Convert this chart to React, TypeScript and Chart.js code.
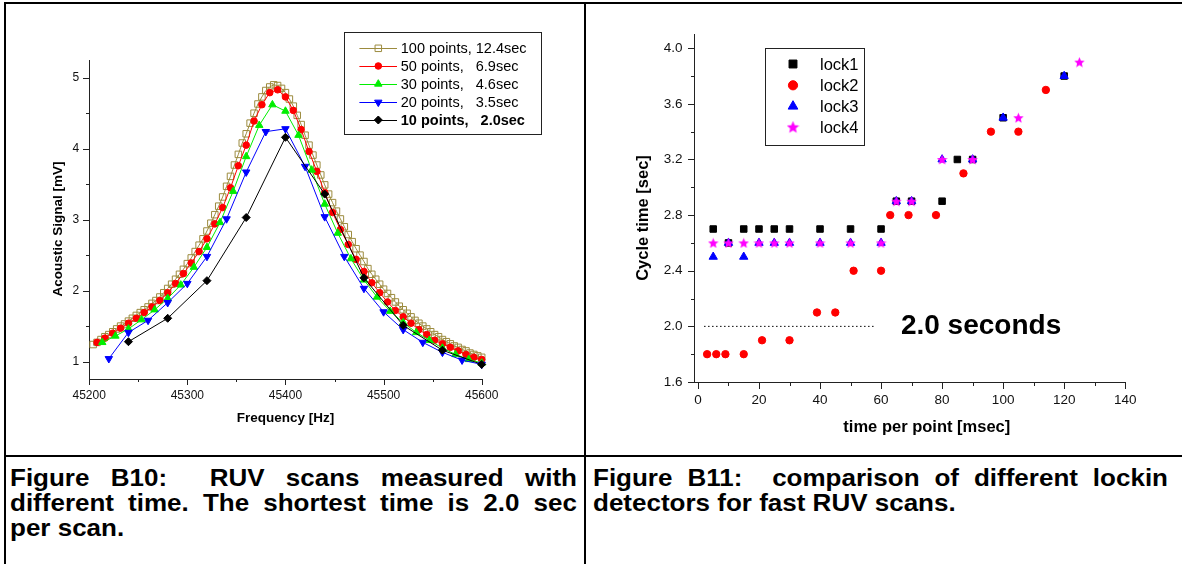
import React, { useEffect, useRef } from 'react';
import { Chart, registerables } from 'chart.js';

Chart.register(...registerables);

const FONT = "'Liberation Sans', Arial, Helvetica, sans-serif";

/* ---------------- Figure B10 : RUV scans ---------------- */
const freq100 = [
  45204, 45208, 45212, 45216, 45220, 45224, 45228, 45232, 45236, 45240,
  45244, 45248, 45252, 45256, 45260, 45264, 45268, 45272, 45276, 45280,
  45284, 45288, 45292, 45296, 45300, 45304, 45308, 45312, 45316, 45320,
  45324, 45328, 45332, 45336, 45340, 45344, 45348, 45352, 45356, 45360,
  45364, 45368, 45372, 45376, 45380, 45384, 45388, 45392, 45396, 45400,
  45404, 45408, 45412, 45416, 45420, 45424, 45428, 45432, 45436, 45440,
  45444, 45448, 45452, 45456, 45460, 45464, 45468, 45472, 45476, 45480,
  45484, 45488, 45492, 45496, 45500, 45504, 45508, 45512, 45516, 45520,
  45524, 45528, 45532, 45536, 45540, 45544, 45548, 45552, 45556, 45560,
  45564, 45568, 45572, 45576, 45580, 45584, 45588, 45592, 45596, 45600,
];
const signal100 = [
  1.24, 1.27, 1.31, 1.35, 1.38, 1.42, 1.46, 1.50, 1.53, 1.57,
  1.61, 1.65, 1.69, 1.73, 1.77, 1.82, 1.86, 1.91, 1.97, 2.03,
  2.09, 2.16, 2.23, 2.30, 2.38, 2.46, 2.55, 2.64, 2.73, 2.84,
  2.95, 3.07, 3.19, 3.32, 3.47, 3.61, 3.77, 3.92, 4.08, 4.21,
  4.36, 4.50, 4.63, 4.73, 4.82, 4.87, 4.90, 4.89, 4.85, 4.79,
  4.70, 4.60, 4.47, 4.34, 4.19, 4.05, 3.91, 3.77, 3.63, 3.49,
  3.36, 3.24, 3.12, 3.01, 2.90, 2.79, 2.69, 2.59, 2.50, 2.41,
  2.31, 2.23, 2.16, 2.09, 2.02, 1.96, 1.90, 1.84, 1.78, 1.73,
  1.68, 1.63, 1.58, 1.54, 1.50, 1.46, 1.42, 1.38, 1.35, 1.31,
  1.28, 1.25, 1.22, 1.20, 1.17, 1.15, 1.12, 1.10, 1.08, 1.06,
];
const freq50 = [
  45208, 45216, 45224, 45232, 45240, 45248, 45256, 45264, 45272, 45280,
  45288, 45296, 45304, 45312, 45320, 45328, 45336, 45344, 45352, 45360,
  45368, 45376, 45384, 45392, 45400, 45408, 45416, 45424, 45432, 45440,
  45448, 45456, 45464, 45472, 45480, 45488, 45496, 45504, 45512, 45520,
  45528, 45536, 45544, 45552, 45560, 45568, 45576, 45584, 45592, 45600,
];
const signal50 = [
  1.27, 1.33, 1.40, 1.47, 1.54, 1.61, 1.69, 1.77, 1.86, 1.97,
  2.10, 2.24, 2.39, 2.55, 2.73, 2.94, 3.17, 3.45, 3.76, 4.05,
  4.39, 4.62, 4.79, 4.83, 4.73, 4.54, 4.27, 3.96, 3.68, 3.38,
  3.10, 2.86, 2.65, 2.44, 2.27, 2.11, 1.97, 1.84, 1.72, 1.63,
  1.54, 1.45, 1.38, 1.30, 1.25, 1.20, 1.15, 1.10, 1.06, 1.03,
];
const freq30 = [
  45213.3, 45226.7, 45240, 45253.3, 45266.7, 45280, 45293.3, 45306.7, 45320, 45333.3,
  45346.7, 45360, 45373.3, 45386.7, 45400, 45413.3, 45426.7, 45440, 45453.3, 45466.7,
  45480, 45493.3, 45506.7, 45520, 45533.3, 45546.7, 45560, 45573.3, 45586.7, 45600,
];
const signal30 = [
  1.27, 1.36, 1.46, 1.59, 1.73, 1.89, 2.08, 2.33, 2.61, 2.96,
  3.40, 3.89, 4.33, 4.62, 4.53, 4.19, 3.70, 3.22, 2.81, 2.45,
  2.15, 1.91, 1.71, 1.55, 1.41, 1.30, 1.19, 1.10, 1.03, 0.98,
];
const freq20 = [
  45220, 45240, 45260, 45280, 45300, 45320, 45340, 45360, 45380, 45400,
  45420, 45440, 45460, 45480, 45500, 45520, 45540, 45560, 45580, 45600,
];
const signal20 = [
  1.04, 1.41, 1.58, 1.83, 2.10, 2.48, 3.01, 3.67, 4.24, 4.28,
  3.75, 3.04, 2.48, 2.03, 1.70, 1.45, 1.27, 1.13, 1.02, 0.96,
];
const freq10 = [45240, 45280, 45320, 45360, 45400, 45440, 45480, 45520, 45560, 45600];
const signal10 = [1.28, 1.61, 2.14, 3.03, 4.16, 3.36, 2.18, 1.51, 1.16, 0.96];

const b10SeriesLabels = [
  '100 points, 12.4sec',
  '50 points,   6.9sec',
  '30 points,   4.6sec',
  '20 points,   3.5sec',
  '10 points,   2.0sec',
];
const b10XTicks = [45200, 45300, 45400, 45500, 45600];
const b10XMinorTicks = [45250, 45350, 45450, 45550];
const b10YTicks = [1, 2, 3, 4, 5];
const b10YMinorTicks = [1.5, 2.5, 3.5, 4.5];
const b10XTitle = 'Frequency [Hz]';
const b10YTitle = 'Acoustic Signal [mV]';

/* ---------------- Figure B11 : lockin comparison ---------------- */
const lock1X = [5, 10, 15, 20, 25, 30, 40, 50, 60, 65, 70, 80, 85, 90, 100, 120];
const lock1Y = [2.7, 2.6, 2.7, 2.7, 2.7, 2.7, 2.7, 2.7, 2.7, 2.9, 2.9, 2.9, 3.2, 3.2, 3.5, 3.8];
const lock2X = [3, 6, 9, 15, 21, 30, 39, 45, 51, 60, 63, 69, 78, 87, 96, 105, 114];
const lock2Y = [1.8, 1.8, 1.8, 1.8, 1.9, 1.9, 2.1, 2.1, 2.4, 2.4, 2.8, 2.8, 2.8, 3.1, 3.4, 3.4, 3.7];
const lock3X = [5, 10, 15, 20, 25, 30, 40, 50, 60, 65, 70, 80, 90, 100, 120];
const lock3Y = [2.5, 2.6, 2.5, 2.6, 2.6, 2.6, 2.6, 2.6, 2.6, 2.9, 2.9, 3.2, 3.2, 3.5, 3.8];
const lock4X = [5, 10, 15, 20, 25, 30, 40, 50, 60, 65, 70, 80, 90, 105, 125];
const lock4Y = [2.6, 2.6, 2.6, 2.6, 2.6, 2.6, 2.6, 2.6, 2.6, 2.9, 2.9, 3.2, 3.2, 3.5, 3.9];
const b11SeriesLabels = ['lock1', 'lock2', 'lock3', 'lock4'];
const refLineX = [2, 58];
const refLineY = [2.0, 2.0];
const refLabel = '2.0 seconds';
const refLabelX = 66.5;
const refLabelY = 2.0;
const b11XTicks = [0, 20, 40, 60, 80, 100, 120, 140];
const b11XMinorTicks = [10, 30, 50, 70, 90, 110, 130];
const b11YTicks = [1.6, 2.0, 2.4, 2.8, 3.2, 3.6, 4.0];
const b11YMinorTicks = [1.8, 2.2, 2.6, 3.0, 3.4, 3.8];
const b11XTitle = 'time per point [msec]';
const b11YTitle = 'Cycle time [sec]';

const captionB10 = [
  'Figure B10:\u00a0 RUV scans measured with',
  'different time. The shortest time is 2.0 sec',
  'per scan.',
];
const captionB11 = [
  'Figure B11:\u00a0 comparison of different lockin',
  'detectors for fast RUV scans.',
];

/* ---------------- helpers ---------------- */
type Marker = {
  style: string;
  radius: number;
  fill: string;
  stroke: string;
  lineWidth: number;
  image?: HTMLCanvasElement;
};

function zip(xs: number[], ys: number[]) {
  return xs.map((x, i) => ({ x, y: ys[i] }));
}

function makeStar(size: number, color: string) {
  const c = document.createElement('canvas');
  c.width = size;
  c.height = size;
  const g = c.getContext('2d')!;
  const cx = size / 2;
  const cy = size / 2 + size * 0.04;
  const R = size / 2;
  const r = R * 0.45;
  g.beginPath();
  for (let i = 0; i < 10; i++) {
    const a = -Math.PI / 2 + (i * Math.PI) / 5;
    const rr = i % 2 ? r : R;
    g.lineTo(cx + rr * Math.cos(a), cy + rr * Math.sin(a));
  }
  g.closePath();
  g.fillStyle = color;
  g.fill();
  return c;
}

function drawMarker(ctx: CanvasRenderingContext2D, m: Marker, x: number, y: number) {
  if (m.image) {
    ctx.drawImage(m.image, x - m.image.width / 2, y - m.image.height / 2);
    return;
  }
  const r = m.radius;
  ctx.beginPath();
  if (m.style === 'rect') {
    const s = r * Math.SQRT1_2;
    ctx.rect(x - s, y - s, 2 * s, 2 * s);
  } else if (m.style === 'circle') {
    ctx.arc(x, y, r, 0, Math.PI * 2);
  } else if (m.style === 'triangle' || m.style === 'triangleDown') {
    const dir = m.style === 'triangle' ? 1 : -1;
    ctx.moveTo(x, y - dir * r);
    ctx.lineTo(x + r * Math.sin((2 * Math.PI) / 3), y - dir * r * Math.cos((2 * Math.PI) / 3));
    ctx.lineTo(x + r * Math.sin((4 * Math.PI) / 3), y - dir * r * Math.cos((4 * Math.PI) / 3));
    ctx.closePath();
  } else if (m.style === 'rectRot') {
    ctx.moveTo(x - r, y);
    ctx.lineTo(x, y - r);
    ctx.lineTo(x + r, y);
    ctx.lineTo(x, y + r);
    ctx.closePath();
  }
  ctx.fillStyle = m.fill;
  ctx.fill();
  if (m.lineWidth > 0) {
    ctx.strokeStyle = m.stroke;
    ctx.lineWidth = m.lineWidth;
    ctx.stroke();
  }
}

function axisTicksPlugin(cfg: {
  xMajor: number[]; xMinor: number[]; yMajor: number[]; yMinor: number[];
  majorLen: number; minorLen: number; color: string;
}) {
  return {
    id: 'originTicks',
    afterDraw(chart: any) {
      const { ctx, chartArea } = chart;
      const xs = chart.scales.x;
      const ys = chart.scales.y;
      ctx.save();
      ctx.strokeStyle = cfg.color;
      ctx.lineWidth = 1;
      ctx.beginPath();
      const b = Math.round(chartArea.bottom);
      const l = Math.round(chartArea.left);
      const xt = (v: number, len: number) => {
        const px = Math.round(xs.getPixelForValue(v)) + 0.5;
        ctx.moveTo(px, b);
        ctx.lineTo(px, b + len);
      };
      const yt = (v: number, len: number) => {
        const py = Math.round(ys.getPixelForValue(v)) + 0.5;
        ctx.moveTo(l, py);
        ctx.lineTo(l - len, py);
      };
      cfg.xMajor.forEach((v) => xt(v, cfg.majorLen));
      cfg.xMinor.forEach((v) => xt(v, cfg.minorLen));
      cfg.yMajor.forEach((v) => yt(v, cfg.majorLen));
      cfg.yMinor.forEach((v) => yt(v, cfg.minorLen));
      ctx.stroke();
      ctx.restore();
    },
  };
}

function titlesPlugin(items: { text: string; x: number; y: number; rotate?: boolean; font: string }[]) {
  return {
    id: 'axisTitles',
    afterDraw(chart: any) {
      const ctx = chart.ctx as CanvasRenderingContext2D;
      for (const t of items) {
        ctx.save();
        ctx.fillStyle = '#000';
        ctx.textAlign = 'center';
        ctx.textBaseline = 'middle';
        ctx.font = t.font;
        ctx.translate(t.x, t.y);
        if (t.rotate) ctx.rotate(-Math.PI / 2);
        ctx.fillText(t.text, 0, 0);
        ctx.restore();
      }
    },
  };
}

function legendPlugin(cfg: {
  box: [number, number, number, number];
  rows: number[];
  count: number;
  markers: Marker[];
  line?: [number, number];
  markerX: number;
  textX: number;
  font: string;
  boldFont?: string;
  boldIndex?: number;
}) {
  return {
    id: 'boxLegend',
    afterDraw(chart: any) {
      const ctx = chart.ctx as CanvasRenderingContext2D;
      const [bx, by, bw, bh] = cfg.box;
      ctx.save();
      ctx.fillStyle = '#fff';
      ctx.fillRect(bx, by, bw, bh);
      ctx.strokeStyle = '#222';
      ctx.lineWidth = 1;
      ctx.strokeRect(Math.round(bx) + 0.5, Math.round(by) + 0.5, Math.round(bw), Math.round(bh));
      for (let i = 0; i < cfg.count; i++) {
        const ds = chart.data.datasets[i];
        const y = cfg.rows[i];
        if (cfg.line) {
          ctx.beginPath();
          ctx.strokeStyle = ds.borderColor;
          ctx.lineWidth = 1;
          ctx.moveTo(cfg.line[0], Math.round(y) + 0.5);
          ctx.lineTo(cfg.line[1], Math.round(y) + 0.5);
          ctx.stroke();
        }
        drawMarker(ctx, cfg.markers[i], cfg.markerX, y);
        ctx.fillStyle = '#000';
        ctx.textAlign = 'left';
        ctx.textBaseline = 'middle';
        ctx.font = cfg.boldIndex === i && cfg.boldFont ? cfg.boldFont : cfg.font;
        ctx.fillText(ds.label, cfg.textX, y + 1);
      }
      ctx.restore();
    },
  };
}

function annotationPlugin(text: string, xv: number, yv: number, font: string) {
  return {
    id: 'refAnnotation',
    afterDraw(chart: any) {
      const ctx = chart.ctx as CanvasRenderingContext2D;
      const px = chart.scales.x.getPixelForValue(xv);
      const py = chart.scales.y.getPixelForValue(yv);
      ctx.save();
      ctx.font = font;
      ctx.fillStyle = '#000';
      ctx.textAlign = 'left';
      ctx.textBaseline = 'middle';
      ctx.fillText(text, px, py);
      ctx.restore();
    },
  };
}

function scaleOptions(
  min: number, max: number, ticks: number[], fmt: (v: number) => string,
  fontSize: number, padding: number, fit: (s: any) => void,
) {
  return {
    type: 'linear',
    min,
    max,
    afterBuildTicks: (s: any) => {
      s.ticks = ticks.map((v) => ({ value: v }));
    },
    afterFit: fit,
    grid: { display: false, drawTicks: false },
    border: { display: true, color: '#222', width: 1 },
    ticks: {
      callback: (v: any) => fmt(Number(v)),
      font: { family: FONT, size: fontSize },
      color: '#111',
      padding,
      autoSkip: false,
      maxRotation: 0,
      minRotation: 0,
    },
  };
}

/* ---------------- charts ---------------- */
const C100 = '#9c8b3e';
const C50 = '#ff0000';
const C30 = '#00ee00';
const C20 = '#0000ff';
const C10 = '#000000';

function B10Chart() {
  const ref = useRef<HTMLCanvasElement>(null);
  useEffect(() => {
    const markers: Marker[] = [
      { style: 'rect', radius: 4.6, fill: 'rgba(255,255,255,0)', stroke: C100, lineWidth: 1 },
      { style: 'circle', radius: 3.3, fill: C50, stroke: C50, lineWidth: 1 },
      { style: 'triangle', radius: 4.3, fill: C30, stroke: C30, lineWidth: 1 },
      { style: 'triangleDown', radius: 4.3, fill: C20, stroke: C20, lineWidth: 1 },
      { style: 'rectRot', radius: 4, fill: C10, stroke: C10, lineWidth: 1 },
    ];
    const series = [
      [freq100, signal100, C100],
      [freq50, signal50, C50],
      [freq30, signal30, C30],
      [freq20, signal20, C20],
      [freq10, signal10, C10],
    ] as [number[], number[], string][];
    const datasets = series.map(([xs, ys, color], i) => ({
      label: b10SeriesLabels[i],
      data: zip(xs, ys),
      showLine: true,
      borderColor: color,
      backgroundColor: color,
      borderWidth: 1,
      tension: 0,
      pointStyle: markers[i].style === 'triangleDown' ? 'triangle' : markers[i].style,
      pointRotation: markers[i].style === 'triangleDown' ? 180 : 0,
      pointRadius: markers[i].radius,
      pointBackgroundColor: markers[i].fill,
      pointBorderColor: markers[i].stroke,
      pointBorderWidth: markers[i].lineWidth,
      order: series.length - i,
      clip: false,
    }));
    const chart = new Chart(ref.current!, {
      type: 'scatter',
      data: { datasets } as any,
      options: {
        animation: false,
        responsive: false,
        events: [],
        layout: { padding: { left: 43.2, right: 102.3, top: 56, bottom: 30.7 } },
        plugins: { legend: { display: false }, tooltip: { enabled: false } },
        scales: {
          x: scaleOptions(45200, 45600, b10XTicks, (v) => String(v), 12, 9.5, (s) => { s.height = 45; }),
          y: scaleOptions(0.75, 5.25, b10YTicks, (v) => String(v), 12, 10, (s) => { s.width = 40; }),
        } as any,
      },
      plugins: [
        axisTicksPlugin({ xMajor: b10XTicks, xMinor: b10XMinorTicks, yMajor: b10YTicks, yMinor: b10YMinorTicks, majorLen: 6, minorLen: 3, color: '#222' }),
        titlesPlugin([
          { text: b10YTitle, x: 52, y: 225, rotate: true, font: `bold 13.5px ${FONT}` },
          { text: b10XTitle, x: 279.5, y: 414.5, font: `bold 13.5px ${FONT}` },
        ]),
        legendPlugin({
          box: [338.4, 28.3, 196.8, 101.7],
          rows: [44.3, 62, 80, 98.3, 116],
          count: 5,
          markers,
          line: [353.4, 391],
          markerX: 372.3,
          textX: 394.8,
          font: `14.5px ${FONT}`,
          boldFont: `bold 14.5px ${FONT}`,
          boldIndex: 4,
        }),
      ] as any,
    });
    return () => chart.destroy();
  }, []);
  return (
    <canvas
      ref={ref}
      width={578}
      height={451}
      style={{ position: 'absolute', left: 6, top: 4, width: 578, height: 451 }}
    />
  );
}

function B11Chart() {
  const ref = useRef<HTMLCanvasElement>(null);
  useEffect(() => {
    const star = makeStar(11, '#ff00ff');
    const starLegend = makeStar(13, '#ff00ff');
    const plotMarkers: Marker[] = [
      { style: 'rect', radius: 4.6, fill: '#000000', stroke: '#000000', lineWidth: 1 },
      { style: 'circle', radius: 3.7, fill: '#ff0000', stroke: '#ff0000', lineWidth: 1 },
      { style: 'triangle', radius: 4.8, fill: '#0000ff', stroke: '#0000ff', lineWidth: 1 },
      { style: 'star', radius: 5.5, fill: '#ff00ff', stroke: '#ff00ff', lineWidth: 0, image: star },
    ];
    const legendMarkers: Marker[] = [
      { style: 'rect', radius: 5.6, fill: '#000000', stroke: '#000000', lineWidth: 1 },
      { style: 'circle', radius: 4.6, fill: '#ff0000', stroke: '#ff0000', lineWidth: 1 },
      { style: 'triangle', radius: 5.6, fill: '#0000ff', stroke: '#0000ff', lineWidth: 1 },
      { style: 'star', radius: 6.5, fill: '#ff00ff', stroke: '#ff00ff', lineWidth: 0, image: starLegend },
    ];
    const series = [
      [lock1X, lock1Y],
      [lock2X, lock2Y],
      [lock3X, lock3Y],
      [lock4X, lock4Y],
    ] as [number[], number[]][];
    const datasets: any[] = series.map(([xs, ys], i) => ({
      label: b11SeriesLabels[i],
      data: zip(xs, ys),
      showLine: false,
      borderColor: plotMarkers[i].stroke,
      backgroundColor: plotMarkers[i].fill,
      pointStyle: plotMarkers[i].image ? plotMarkers[i].image : plotMarkers[i].style,
      pointRadius: plotMarkers[i].radius,
      pointBackgroundColor: plotMarkers[i].fill,
      pointBorderColor: plotMarkers[i].stroke,
      pointBorderWidth: plotMarkers[i].lineWidth,
      order: series.length - i,
      clip: false,
    }));
    datasets.push({
      label: 'ref',
      data: zip(refLineX, refLineY),
      showLine: true,
      borderColor: '#000',
      borderWidth: 1,
      borderDash: [1.5, 2.5],
      pointRadius: 0,
      order: 10,
    });
    const chart = new Chart(ref.current!, {
      type: 'scatter',
      data: { datasets },
      options: {
        animation: false,
        responsive: false,
        events: [],
        layout: { padding: { left: 57.6, right: 56.8, top: 30.3, bottom: 28 } },
        plugins: { legend: { display: false }, tooltip: { enabled: false } },
        scales: {
          x: scaleOptions(-1.1, 140, b11XTicks, (v) => String(v), 13.5, 10, (s) => { s.height = 45; }),
          y: scaleOptions(1.6, 4.1, b11YTicks, (v) => v.toFixed(1), 13.5, 12, (s) => { s.width = 50; }),
        } as any,
      },
      plugins: [
        axisTicksPlugin({ xMajor: b11XTicks, xMinor: b11XMinorTicks, yMajor: b11YTicks, yMinor: b11YMinorTicks, majorLen: 7, minorLen: 4, color: '#222' }),
        titlesPlugin([
          { text: b11YTitle, x: 56, y: 214, rotate: true, font: `bold 16.5px ${FONT}` },
          { text: b11XTitle, x: 339.8, y: 423, font: `bold 16.5px ${FONT}` },
        ]),
        legendPlugin({
          box: [178.4, 43.7, 99.3, 96.6],
          rows: [60, 81.3, 102.3, 123],
          count: 4,
          markers: legendMarkers,
          markerX: 206,
          textX: 233,
          font: `16.5px ${FONT}`,
        }),
        annotationPlugin(refLabel, refLabelX, refLabelY, `bold 28px ${FONT}`),
      ] as any,
    });
    return () => chart.destroy();
  }, []);
  return (
    <canvas
      ref={ref}
      width={595}
      height={451}
      style={{ position: 'absolute', left: 587, top: 4, width: 595, height: 451 }}
    />
  );
}

function Caption({ lines, left, width }: { lines: string[]; left: number; width: number }) {
  return (
    <div
      style={{
        position: 'absolute',
        left,
        top: 465,
        width,
        fontFamily: FONT,
        fontWeight: 'bold',
        fontSize: 26,
        lineHeight: '26.3px',
        color: '#000',
        transform: 'scaleY(0.95)',
        transformOrigin: '0 0',
      }}
    >
      {lines.map((l, i) => {
        const justify = i < lines.length - 1;
        return (
          <div
            key={i}
            style={{
              textAlign: justify ? 'justify' : 'left',
              textAlignLast: justify ? 'justify' : 'left',
            } as React.CSSProperties}
          >
            {l}
          </div>
        );
      })}
    </div>
  );
}

const rule = (left: number, top: number, width: number, height: number): React.CSSProperties => ({
  position: 'absolute',
  left,
  top,
  width,
  height,
  background: '#000',
});

export default function App() {
  return (
    <div
      style={{
        position: 'absolute',
        left: 0,
        top: 0,
        width: 1182,
        height: 564,
        background: '#fff',
        overflow: 'hidden',
      }}
    >
      <B10Chart />
      <B11Chart />
      <div style={rule(4, 2, 1178, 2)} />
      <div style={rule(4, 2, 2, 562)} />
      <div style={rule(584, 2, 2, 562)} />
      <div style={rule(4, 455, 1178, 2)} />
      <Caption lines={captionB10} left={10} width={567} />
      <Caption lines={captionB11} left={593} width={575} />
    </div>
  );
}
